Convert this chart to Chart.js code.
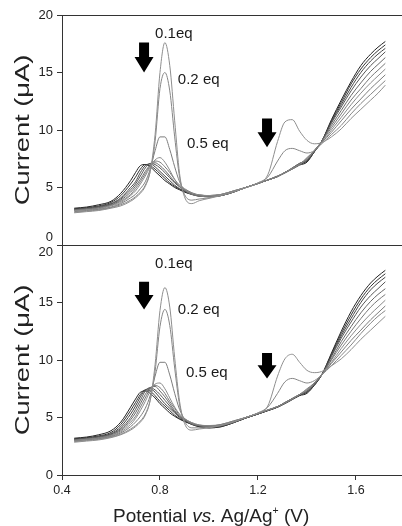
<!DOCTYPE html>
<html>
<head>
<meta charset="utf-8">
<script src="https://cdn.jsdelivr.net/npm/chart.js@4.4.1/dist/chart.umd.min.js"></script>
<style>
  html, body { margin: 0; padding: 0; background: #fff; }
  #wrap { position: relative; width: 402px; height: 526px; overflow: hidden;
          font-family: "Liberation Sans", Arial, sans-serif; color: #222; }
  canvas { position: absolute; left: 0; top: 0; }
  .ytitle { position: absolute; white-space: nowrap; font-size: 20px; line-height: 1; transform-origin: center; }
  .xtitle { position: absolute; white-space: nowrap; font-size: 19px; line-height: 1; }
  .xtitle sup { font-size: 0.55em; vertical-align: 0.75em; line-height: 0; }
</style>
</head>
<body>
<div id="wrap">
  <canvas id="topChart" width="402" height="526"></canvas>
  <canvas id="botChart" width="402" height="526"></canvas>
  <div class="ytitle" id="yt1">Current (μA)</div>
  <div class="ytitle" id="yt2">Current (μA)</div>
  <div class="xtitle" id="xt">Potential <i>vs.</i> Ag/Ag<sup>+</sup> (V)</div>
</div>
<script>
// potential axis (V vs Ag/Ag+), shared by every curve
var potential = [0.45, 0.50, 0.55, 0.60, 0.64, 0.68, 0.70, 0.72, 0.74, 0.76, 0.78, 0.80, 0.82, 0.84, 0.86, 0.88, 0.90, 0.93, 0.96, 1.00,
                 1.05, 1.10, 1.15, 1.20, 1.24, 1.28, 1.31, 1.34, 1.37, 1.40, 1.43, 1.46, 1.50, 1.54, 1.58, 1.62, 1.66, 1.69, 1.72];

var xTicks = [0.4, 0.8, 1.2, 1.6];
var yTicks = [0, 5, 10, 15, 20];

// upper panel, current in uA (0.1 eq first)
var top1  = [2.8, 2.9, 3.0, 3.2, 3.4, 3.8, 4.1, 4.5, 5.1, 6.4, 9.6, 15.0, 17.6, 15.6, 10.8, 6.2, 4.2, 3.6, 3.85, 4.05, 4.3, 4.6, 5.0, 5.4, 6.1, 9.0, 10.7, 10.9, 9.9, 9.1, 8.8, 8.9, 9.4, 10.1, 11.0, 11.8, 12.6, 13.2, 13.9];
var top2  = [2.85, 2.95, 3.05, 3.25, 3.5, 3.9, 4.2, 4.6, 5.2, 6.4, 9.0, 13.6, 15.0, 13.4, 9.4, 5.9, 4.4, 3.9, 4.0, 4.1, 4.35, 4.65, 5.0, 5.4, 5.9, 7.3, 8.2, 8.4, 8.2, 8.0, 8.2, 8.8, 9.6, 10.4, 11.4, 12.3, 13.1, 13.7, 14.3];
var top3  = [2.9, 3.0, 3.1, 3.3, 3.6, 4.1, 4.4, 4.9, 5.5, 6.6, 8.2, 9.4, 9.4, 8.3, 6.8, 5.5, 4.8, 4.4, 4.25, 4.2, 4.35, 4.65, 5.0, 5.35, 5.65, 5.95, 6.25, 6.6, 7.0, 7.6, 8.2, 8.9, 9.8, 10.8, 11.8, 12.7, 13.6, 14.2, 14.8];
var top4  = [3.0, 3.05, 3.15, 3.4, 3.7, 4.3, 4.7, 5.3, 6.0, 6.8, 7.4, 7.6, 7.2, 6.5, 5.7, 5.1, 4.8, 4.5, 4.35, 4.3, 4.4, 4.7, 5.0, 5.35, 5.65, 5.95, 6.3, 6.65, 7.0, 7.5, 8.2, 8.9, 10.0, 11.1, 12.2, 13.2, 14.1, 14.7, 15.3];
var top5  = [3.0, 3.1, 3.2, 3.45, 3.8, 4.4, 4.9, 5.5, 6.2, 6.9, 7.3, 7.2, 6.8, 6.3, 5.7, 5.2, 4.9, 4.55, 4.35, 4.3, 4.4, 4.7, 5.0, 5.35, 5.65, 5.95, 6.3, 6.65, 7.05, 7.5, 8.2, 9.0, 10.2, 11.4, 12.6, 13.6, 14.6, 15.2, 15.8];
var top6  = [3.05, 3.15, 3.25, 3.5, 3.9, 4.6, 5.1, 5.7, 6.4, 6.95, 7.15, 6.9, 6.5, 6.0, 5.5, 5.1, 4.8, 4.5, 4.35, 4.3, 4.4, 4.7, 5.0, 5.35, 5.65, 6.0, 6.3, 6.7, 7.1, 7.4, 8.2, 9.0, 10.4, 11.7, 13.0, 14.1, 15.1, 15.7, 16.3];
var top7  = [3.05, 3.15, 3.3, 3.55, 4.0, 4.8, 5.3, 6.0, 6.7, 7.1, 7.0, 6.7, 6.3, 5.85, 5.4, 5.05, 4.75, 4.5, 4.3, 4.25, 4.35, 4.65, 5.0, 5.35, 5.65, 6.0, 6.3, 6.7, 7.1, 7.4, 8.2, 9.0, 10.6, 12.0, 13.4, 14.6, 15.6, 16.2, 16.8];
var top8  = [3.1, 3.2, 3.35, 3.6, 4.1, 5.0, 5.5, 6.3, 6.9, 7.05, 6.8, 6.4, 6.0, 5.6, 5.2, 4.9, 4.7, 4.45, 4.3, 4.2, 4.3, 4.6, 5.0, 5.35, 5.65, 5.95, 6.3, 6.65, 7.05, 7.3, 8.1, 9.0, 10.7, 12.2, 13.7, 15.0, 16.0, 16.6, 17.1];
var top9  = [3.15, 3.25, 3.4, 3.7, 4.3, 5.3, 5.9, 6.6, 7.0, 6.9, 6.6, 6.2, 5.8, 5.4, 5.1, 4.85, 4.65, 4.4, 4.25, 4.2, 4.3, 4.6, 5.0, 5.35, 5.65, 5.95, 6.3, 6.65, 7.0, 7.3, 8.1, 9.0, 10.8, 12.4, 14.0, 15.3, 16.3, 16.9, 17.4];
var top10 = [3.2, 3.3, 3.5, 3.8, 4.5, 5.6, 6.3, 6.9, 7.0, 6.8, 6.4, 6.0, 5.6, 5.3, 5.0, 4.8, 4.6, 4.4, 4.25, 4.2, 4.3, 4.6, 5.0, 5.35, 5.65, 5.95, 6.3, 6.6, 6.95, 7.2, 8.1, 9.0, 10.9, 12.6, 14.2, 15.6, 16.6, 17.2, 17.7];

// lower panel
var bot1  = [2.85, 2.95, 3.05, 3.25, 3.5, 3.9, 4.2, 4.6, 5.2, 6.5, 9.6, 14.3, 16.3, 14.6, 10.2, 6.4, 4.5, 3.9, 4.0, 4.1, 4.3, 4.6, 5.0, 5.4, 6.0, 8.6, 10.1, 10.5, 9.8, 9.1, 8.9, 9.0, 9.5, 10.1, 10.9, 11.8, 12.6, 13.2, 13.8];
var bot2  = [2.9, 3.0, 3.1, 3.3, 3.55, 4.0, 4.3, 4.7, 5.3, 6.5, 9.0, 12.9, 14.4, 13.0, 9.3, 6.1, 4.7, 4.1, 4.1, 4.15, 4.35, 4.65, 5.0, 5.4, 5.9, 7.1, 8.1, 8.4, 8.2, 8.0, 8.2, 8.7, 9.5, 10.4, 11.3, 12.3, 13.2, 13.8, 14.3];
var bot3  = [2.95, 3.05, 3.15, 3.35, 3.65, 4.2, 4.6, 5.1, 5.8, 6.9, 8.6, 9.8, 9.8, 8.7, 7.1, 5.7, 4.9, 4.45, 4.3, 4.25, 4.4, 4.7, 5.0, 5.35, 5.65, 5.95, 6.25, 6.6, 7.0, 7.5, 8.0, 8.7, 9.7, 10.7, 11.7, 12.6, 13.5, 14.1, 14.7];
var bot4  = [3.0, 3.1, 3.2, 3.4, 3.75, 4.4, 4.9, 5.6, 6.4, 7.3, 7.9, 8.0, 7.5, 6.7, 5.9, 5.3, 4.9, 4.55, 4.35, 4.3, 4.4, 4.7, 5.0, 5.35, 5.65, 5.95, 6.25, 6.6, 7.0, 7.4, 8.0, 8.7, 9.8, 11.0, 12.1, 13.1, 14.0, 14.6, 15.2];
var bot5  = [3.0, 3.1, 3.2, 3.45, 3.85, 4.6, 5.1, 5.9, 6.7, 7.5, 7.8, 7.6, 7.1, 6.4, 5.8, 5.2, 4.9, 4.55, 4.35, 4.25, 4.35, 4.65, 5.0, 5.35, 5.65, 5.95, 6.3, 6.65, 7.0, 7.4, 8.0, 8.7, 10.0, 11.3, 12.5, 13.6, 14.6, 15.2, 15.7];
var bot6  = [3.05, 3.15, 3.25, 3.5, 3.95, 4.8, 5.4, 6.2, 7.0, 7.6, 7.7, 7.3, 6.8, 6.2, 5.6, 5.1, 4.8, 4.5, 4.3, 4.2, 4.3, 4.6, 5.0, 5.35, 5.65, 5.95, 6.3, 6.65, 7.0, 7.3, 7.9, 8.7, 10.1, 11.6, 12.9, 14.1, 15.1, 15.7, 16.2];
var bot7  = [3.05, 3.15, 3.3, 3.55, 4.05, 5.0, 5.7, 6.5, 7.3, 7.6, 7.4, 7.0, 6.5, 6.0, 5.5, 5.1, 4.8, 4.5, 4.3, 4.2, 4.3, 4.6, 5.0, 5.35, 5.65, 5.95, 6.3, 6.65, 7.0, 7.3, 7.9, 8.7, 10.3, 11.9, 13.3, 14.6, 15.6, 16.2, 16.8];
var bot8  = [3.1, 3.2, 3.35, 3.6, 4.2, 5.3, 6.0, 6.8, 7.4, 7.5, 7.2, 6.7, 6.2, 5.8, 5.4, 5.0, 4.75, 4.45, 4.25, 4.15, 4.25, 4.55, 4.95, 5.3, 5.6, 5.9, 6.25, 6.6, 6.95, 7.2, 7.9, 8.7, 10.4, 12.1, 13.6, 15.0, 16.1, 16.7, 17.2];
var bot9  = [3.15, 3.25, 3.4, 3.7, 4.4, 5.6, 6.3, 7.0, 7.4, 7.3, 6.9, 6.4, 6.0, 5.6, 5.2, 4.9, 4.7, 4.4, 4.2, 4.1, 4.2, 4.55, 4.95, 5.3, 5.6, 5.9, 6.25, 6.6, 6.95, 7.2, 7.8, 8.7, 10.5, 12.3, 13.9, 15.3, 16.4, 17.0, 17.5];
var bot10 = [3.2, 3.3, 3.5, 3.85, 4.6, 5.9, 6.6, 7.2, 7.3, 7.1, 6.7, 6.2, 5.8, 5.4, 5.1, 4.85, 4.65, 4.4, 4.2, 4.1, 4.2, 4.55, 4.95, 5.3, 5.6, 5.9, 6.2, 6.55, 6.9, 7.1, 7.8, 8.7, 10.6, 12.5, 14.2, 15.6, 16.7, 17.3, 17.8];

// peak labels and arrows, in data units (V, uA)
var eqLabels   = ['0.1eq', '0.2 eq', '0.5 eq'];
var topLabelX  = [0.78, 0.873, 0.91];
var topLabelY  = [18.4, 14.35, 8.8];
var botLabelX  = [0.78, 0.873, 0.906];
var botLabelY  = [18.4, 14.4, 8.9];
var topArrowX   = [0.735, 1.237];
var topArrowTop = [17.6, 11.0];
var topArrowTip = [15.0, 8.5];
var botArrowX   = [0.735, 1.237];
var botArrowTop = [16.8, 10.6];
var botArrowTip = [14.4, 8.4];

var lineColors = ['#8e8e8e', '#868686', '#7c7c7c', '#8a8a8a', '#777777', '#666666', '#555555', '#444444', '#333333', '#222222'];
var axisColor = '#333';
var font = '"Liberation Sans", Arial, sans-serif';

function makeDatasets(list) {
  var sets = [];
  for (var i = 0; i < list.length; i++) {
    var pts = [];
    for (var j = 0; j < potential.length; j++) pts.push({ x: potential[j], y: list[i][j] });
    sets.push({ data: pts, borderColor: lineColors[i], borderWidth: 1, pointRadius: 0,
                cubicInterpolationMode: 'monotone', fill: false });
  }
  return sets;
}

// draws the "0.1eq" texts and the black arrows
function notesPlugin(lx, ly, ax, aTop, aTip) {
  return {
    id: 'notes',
    afterDatasetsDraw: function(chart) {
      var ctx = chart.ctx, xs = chart.scales.x, ys = chart.scales.y;
      ctx.save();
      ctx.fillStyle = '#1a1a1a';
      ctx.font = '15px ' + font;
      ctx.textAlign = 'left';
      ctx.textBaseline = 'middle';
      for (var i = 0; i < eqLabels.length; i++) {
        ctx.fillText(eqLabels[i], xs.getPixelForValue(lx[i]), ys.getPixelForValue(ly[i]));
      }
      ctx.fillStyle = '#000';
      for (var k = 0; k < ax.length; k++) {
        var cx = xs.getPixelForValue(ax[k]);
        var t = ys.getPixelForValue(aTop[k]);
        var b = ys.getPixelForValue(aTip[k]);
        var neck = t + (b - t) * 0.48;
        ctx.beginPath();
        ctx.moveTo(cx - 5, t);
        ctx.lineTo(cx + 5, t);
        ctx.lineTo(cx + 5, neck);
        ctx.lineTo(cx + 9.5, neck);
        ctx.lineTo(cx, b);
        ctx.lineTo(cx - 9.5, neck);
        ctx.lineTo(cx - 5, neck);
        ctx.closePath();
        ctx.fill();
      }
      ctx.restore();
    }
  };
}

function fixTicks(list) {
  return function(s) { s.ticks = list.map(function(v) { return { value: v }; }); };
}

var xMin = 0.4, xMax = 1.788;

var topChart = new Chart(document.getElementById('topChart').getContext('2d'), {
  type: 'line',
  data: { datasets: makeDatasets([top1, top2, top3, top4, top5, top6, top7, top8, top9, top10]) },
  options: {
    responsive: false, animation: false, events: [],
    layout: { padding: 0 },
    plugins: { legend: { display: false }, tooltip: { enabled: false } },
    scales: {
      x: { type: 'linear', position: 'bottom', min: xMin, max: xMax,
           ticks: { display: false }, grid: { display: false },
           border: { display: true, color: axisColor, width: 1 },
           afterFit: function(s) { s.height = 526 - 245; } },
      xTop: { type: 'linear', position: 'top', min: xMin, max: xMax,
              ticks: { display: false }, grid: { display: false },
              border: { display: true, color: axisColor, width: 1 },
              afterFit: function(s) { s.height = 15; } },
      y: { type: 'linear', position: 'left', min: 0, max: 20,
           afterBuildTicks: fixTicks(yTicks),
           ticks: { color: '#222', padding: 4, font: { family: font, size: 13 },
                    callback: function(v) { return v === 0 ? ['0', ''] : String(v); } },
           grid: { drawOnChartArea: false, tickLength: 5, color: axisColor },
           border: { color: axisColor, width: 1 },
           afterFit: function(s) { s.width = 62; } }
    }
  },
  plugins: [notesPlugin(topLabelX, topLabelY, topArrowX, topArrowTop, topArrowTip)]
});

var botChart = new Chart(document.getElementById('botChart').getContext('2d'), {
  type: 'line',
  data: { datasets: makeDatasets([bot1, bot2, bot3, bot4, bot5, bot6, bot7, bot8, bot9, bot10]) },
  options: {
    responsive: false, animation: false, events: [],
    layout: { padding: { top: 245 } },
    plugins: { legend: { display: false }, tooltip: { enabled: false } },
    scales: {
      x: { type: 'linear', position: 'bottom', min: xMin, max: xMax,
           afterBuildTicks: fixTicks(xTicks),
           ticks: { color: '#222', padding: 3, maxRotation: 0, font: { family: font, size: 12.5 },
                    callback: function(v) { return v.toFixed(1); } },
           grid: { drawOnChartArea: false, tickLength: 5, color: axisColor },
           border: { color: axisColor, width: 1 },
           afterFit: function(s) { s.height = 526 - 475; } },
      y: { type: 'linear', position: 'left', min: 0, max: 20,
           afterBuildTicks: fixTicks(yTicks),
           ticks: { color: '#222', padding: 4, font: { family: font, size: 13 },
                    callback: function(v) { return v === 20 ? ['', '20'] : String(v); } },
           grid: { drawOnChartArea: false, tickLength: 5, color: axisColor },
           border: { color: axisColor, width: 1 },
           afterFit: function(s) { s.width = 62; } }
    }
  },
  plugins: [notesPlugin(botLabelX, botLabelY, botArrowX, botArrowTop, botArrowTip)]
});

// axis titles as html text (italic "vs." and superscript "+")
function placeYTitle(id, scale) {
  var el = document.getElementById(id);
  var w = el.offsetWidth, h = el.offsetHeight;
  var cy = (scale.top + scale.bottom) / 2;
  el.style.left = (22 - w / 2) + 'px';
  el.style.top = (cy - h / 2) + 'px';
  el.style.transform = 'rotate(-90deg) scaleX(' + (150 / w).toFixed(3) + ')';
}
placeYTitle('yt1', topChart.scales.y);
placeYTitle('yt2', botChart.scales.y);

var xt = document.getElementById('xt');
xt.style.left = (211 - xt.offsetWidth / 2) + 'px';
xt.style.top = '506px';
</script>
</body>
</html>
